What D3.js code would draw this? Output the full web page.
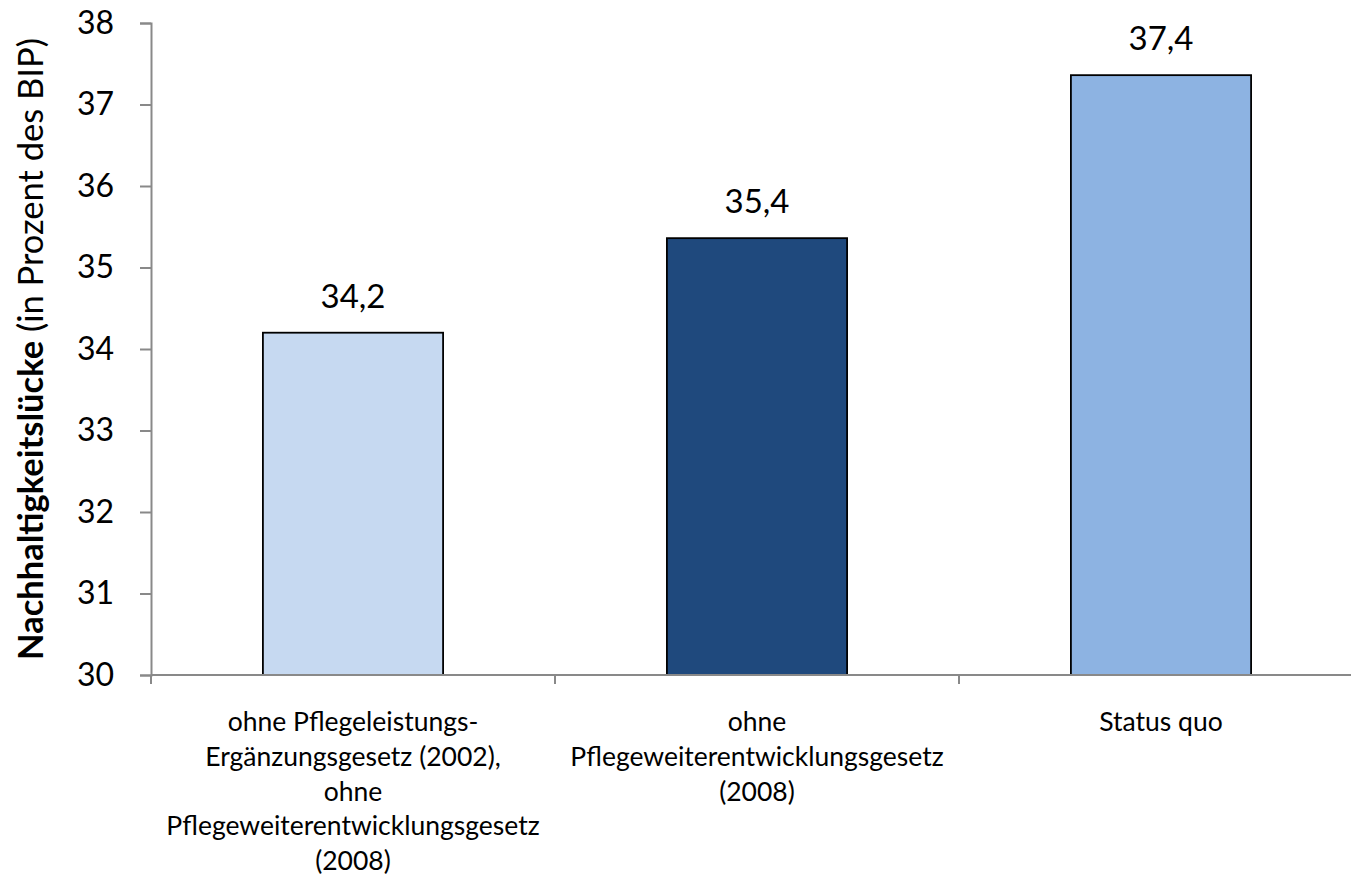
<!DOCTYPE html>
<html>
<head>
<meta charset="utf-8">
<script src="https://cdn.jsdelivr.net/npm/d3@7"></script>
<style>
  html, body { margin: 0; padding: 0; background: #fff; }
  svg { display: block; font-family: Lato, "Open Sans", sans-serif; }
</style>
</head>
<body>
<svg id="chart" width="1351" height="875"></svg>
<script>
const categories = [
  ["ohne Pflegeleistungs-", "Ergänzungsgesetz (2002),", "ohne", "Pflegeweiterentwicklungsgesetz", "(2008)"],
  ["ohne", "Pflegeweiterentwicklungsgesetz", "(2008)"],
  ["Status quo"]
];
const values = [34.2, 35.36, 37.36];
const barColors = ["#C6D9F1", "#1F497D", "#8DB3E2"];
const yTicks = [30, 31, 32, 33, 34, 35, 36, 37, 38];
const yTitleBold = "Nachhaltigkeitslücke";
const yTitleRest = " (in Prozent des BIP)";

const svg = d3.select("#chart");
const mLeft = 151, mTop = 23, mBottom = 675, mRight = 1363;

const x = d3.scaleBand()
  .domain(d3.range(categories.length))
  .range([mLeft, mRight])
  .paddingInner(0.554)
  .paddingOuter(0.277);

const y = d3.scaleLinear().domain([30, 38]).range([mBottom, mTop]);

const de = d3.formatLocale({decimal: ",", thousands: ".", grouping: [3], currency: ["", " €"]});
const fmt = de.format(".1f");

const axisColor = "#898989";

// Y axis
const yAxis = svg.append("g")
  .attr("transform", `translate(${mLeft},0)`)
  .call(d3.axisLeft(y).tickValues(yTicks).tickSize(11).tickPadding(26).tickFormat(d3.format("d")));
yAxis.attr("font-family", null);
yAxis.select(".domain").attr("stroke", axisColor).attr("stroke-width", 2);
yAxis.selectAll(".tick line").attr("stroke", axisColor).attr("stroke-width", 2);
yAxis.selectAll(".tick text")
  .attr("fill", "#000")
  .style("font-size", "32px")
  .style("font-family", "Lato, sans-serif");

// Bars
svg.append("g").selectAll("rect")
  .data(values)
  .join("rect")
  .attr("x", (d, i) => x(i))
  .attr("y", d => y(d))
  .attr("width", x.bandwidth())
  .attr("height", d => y(30) - y(d))
  .attr("fill", (d, i) => barColors[i])
  .attr("stroke", "#000")
  .attr("stroke-width", 1.8);

// X axis
const xAxisG = svg.append("g").attr("transform", `translate(0,${mBottom})`);
xAxisG.append("line")
  .attr("x1", mLeft).attr("x2", mRight)
  .attr("y1", 0).attr("y2", 0)
  .attr("stroke", axisColor).attr("stroke-width", 2);
const boundaries = d3.range(categories.length + 1).map(i => mLeft + i * x.step());
xAxisG.selectAll("line.tk")
  .data(boundaries)
  .join("line")
  .attr("class", "tk")
  .attr("x1", d => d).attr("x2", d => d)
  .attr("y1", 0).attr("y2", 9)
  .attr("stroke", axisColor).attr("stroke-width", 2);

// Category labels
const catG = svg.append("g");
categories.forEach((lines, i) => {
  const t = catG.append("text")
    .attr("x", x(i) + x.bandwidth() / 2)
    .attr("y", 731)
    .attr("text-anchor", "middle")
    .style("font-size", "26.5px")
    .attr("fill", "#000");
  lines.forEach((ln, j) => {
    t.append("tspan")
      .attr("x", x(i) + x.bandwidth() / 2)
      .attr("dy", j === 0 ? 0 : 34.8)
      .text(ln);
  });
});

// Value labels
svg.append("g").selectAll("text")
  .data(values)
  .join("text")
  .attr("x", (d, i) => x(i) + x.bandwidth() / 2)
  .attr("y", d => y(d) - 25)
  .attr("text-anchor", "middle")
  .style("font-size", "33px")
  .attr("fill", "#000")
  .text(d => fmt(d));

// Y title
const yt = svg.append("text")
  .attr("transform", `translate(43,${(mTop + mBottom) / 2}) rotate(-90)`)
  .attr("text-anchor", "middle")
  .style("font-size", "34.5px")
  .attr("fill", "#000");
yt.append("tspan").style("font-weight", "bold").text(yTitleBold);
yt.append("tspan").text(yTitleRest);
</script>
</body>
</html>
